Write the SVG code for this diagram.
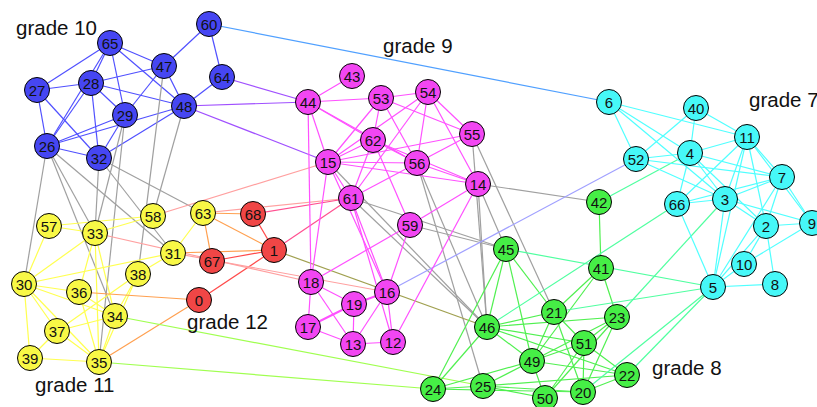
<svg xmlns="http://www.w3.org/2000/svg" width="817" height="407" viewBox="0 0 817 407">
<style>
line{stroke-width:1.2;fill:none}
.b{stroke:#5050ff}.m{stroke:#ff50ff}.c{stroke:#50ffff}.g{stroke:#50f050}.y{stroke:#ffff50}.r{stroke:#ff4a4a}
.bm{stroke:#a050ff}.bc{stroke:#50a0ff}.gr{stroke:#a0a0a0}.my{stroke:#ffa0a0}.mr{stroke:#ff5090}.yr{stroke:#ffa050}
.yg{stroke:#a0ff50}.rg{stroke:#a0a050}.mc{stroke:#a0a0ff}.gc{stroke:#50ffa0}
.thick{stroke-width:2}
circle{stroke:#000;stroke-width:1}
.nb circle{fill:#4646f2}.nm circle{fill:#f246f2}.nc circle{fill:#46f8f8}.ng circle{fill:#46ee46}.ny circle{fill:#f8f846}.nr circle{fill:#f04646}
.node text{font-family:"Liberation Sans",Arial,sans-serif;font-size:15px;text-anchor:middle;fill:#111}
.lbl{font-family:"Liberation Sans",Arial,sans-serif;font-size:20.5px;fill:#111}
</style>
<rect width="817" height="407" fill="#fff"/>
<g id="edges">
<line class="b" x1="209" y1="24" x2="164" y2="66"/>
<line class="b" x1="209" y1="24" x2="222" y2="77"/>
<line class="b" x1="222" y1="77" x2="184" y2="106"/>
<line class="b" x1="110" y1="43" x2="164" y2="66"/>
<line class="b" x1="110" y1="43" x2="91" y2="83"/>
<line class="b" x1="110" y1="43" x2="47" y2="146"/>
<line class="b" x1="110" y1="43" x2="37" y2="90"/>
<line class="b" x1="110" y1="43" x2="125" y2="115"/>
<line class="b" x1="110" y1="43" x2="184" y2="106"/>
<line class="b" x1="37" y1="90" x2="91" y2="83"/>
<line class="b" x1="37" y1="90" x2="47" y2="146"/>
<line class="b" x1="37" y1="90" x2="99" y2="158"/>
<line class="b" x1="91" y1="83" x2="164" y2="66"/>
<line class="b" x1="91" y1="83" x2="184" y2="106"/>
<line class="b" x1="91" y1="83" x2="125" y2="115"/>
<line class="b" x1="91" y1="83" x2="99" y2="158"/>
<line class="b" x1="91" y1="83" x2="47" y2="146"/>
<line class="b" x1="164" y1="66" x2="125" y2="115"/>
<line class="b" x1="164" y1="66" x2="184" y2="106"/>
<line class="b" x1="125" y1="115" x2="47" y2="146"/>
<line class="b" x1="47" y1="146" x2="184" y2="106"/>
<line class="b" x1="125" y1="115" x2="99" y2="158"/>
<line class="b" x1="99" y1="158" x2="184" y2="106"/>
<line class="b" x1="47" y1="146" x2="99" y2="158"/>
<line class="bm" x1="222" y1="77" x2="308" y2="102"/>
<line class="bm" x1="184" y1="106" x2="308" y2="102"/>
<line class="bm" x1="184" y1="106" x2="328" y2="162"/>
<line class="bc" x1="209" y1="24" x2="609" y2="102"/>
<line class="gr" x1="47" y1="146" x2="24" y2="284"/>
<line class="gr" x1="47" y1="146" x2="95" y2="233"/>
<line class="gr" x1="47" y1="146" x2="115" y2="316"/>
<line class="gr" x1="47" y1="146" x2="173" y2="253"/>
<line class="gr" x1="99" y1="158" x2="95" y2="233"/>
<line class="gr" x1="99" y1="158" x2="203" y2="213"/>
<line class="gr" x1="99" y1="158" x2="173" y2="253"/>
<line class="gr" x1="125" y1="115" x2="95" y2="233"/>
<line class="gr" x1="125" y1="115" x2="99" y2="362"/>
<line class="gr" x1="164" y1="66" x2="138" y2="274"/>
<line class="gr" x1="184" y1="106" x2="153" y2="216"/>
<line class="gr" x1="478" y1="184" x2="599" y2="202"/>
<line class="gr" x1="478" y1="184" x2="506" y2="249"/>
<line class="gr" x1="478" y1="184" x2="487" y2="327"/>
<line class="gr" x1="472" y1="134" x2="487" y2="327"/>
<line class="gr" x1="472" y1="134" x2="554" y2="312"/>
<line class="gr" x1="351" y1="198" x2="506" y2="249"/>
<line class="gr" x1="410" y1="225" x2="506" y2="249"/>
<line class="gr" x1="351" y1="198" x2="487" y2="327"/>
<line class="gr" x1="328" y1="162" x2="487" y2="327"/>
<line class="gr" x1="417" y1="163" x2="487" y2="327"/>
<line class="gr" x1="417" y1="163" x2="483" y2="386"/>
<line class="y" x1="49" y1="226" x2="95" y2="233"/>
<line class="y" x1="49" y1="226" x2="24" y2="284"/>
<line class="y" x1="153" y1="216" x2="49" y2="226"/>
<line class="y" x1="153" y1="216" x2="95" y2="233"/>
<line class="y" x1="95" y1="233" x2="24" y2="284"/>
<line class="y" x1="95" y1="233" x2="79" y2="292"/>
<line class="y" x1="95" y1="233" x2="115" y2="316"/>
<line class="y" x1="95" y1="233" x2="99" y2="362"/>
<line class="y" x1="173" y1="253" x2="24" y2="284"/>
<line class="y" x1="173" y1="253" x2="138" y2="274"/>
<line class="y" x1="173" y1="253" x2="203" y2="213"/>
<line class="y" x1="24" y1="284" x2="79" y2="292"/>
<line class="y" x1="24" y1="284" x2="115" y2="316"/>
<line class="y" x1="24" y1="284" x2="57" y2="331"/>
<line class="y" x1="24" y1="284" x2="30" y2="358"/>
<line class="y" x1="24" y1="284" x2="99" y2="362"/>
<line class="y" x1="79" y1="292" x2="115" y2="316"/>
<line class="y" x1="79" y1="292" x2="99" y2="362"/>
<line class="y" x1="138" y1="274" x2="57" y2="331"/>
<line class="y" x1="138" y1="274" x2="99" y2="362"/>
<line class="y" x1="138" y1="274" x2="115" y2="316"/>
<line class="y" x1="115" y1="316" x2="57" y2="331"/>
<line class="y" x1="115" y1="316" x2="99" y2="362"/>
<line class="y" x1="57" y1="331" x2="30" y2="358"/>
<line class="y" x1="57" y1="331" x2="99" y2="362"/>
<line class="y" x1="30" y1="358" x2="99" y2="362"/>
<line class="yr" x1="203" y1="213" x2="212" y2="261"/>
<line class="yr" x1="203" y1="213" x2="274" y2="250"/>
<line class="yr" x1="203" y1="213" x2="253" y2="214"/>
<line class="yr" x1="173" y1="253" x2="274" y2="250"/>
<line class="yr" x1="79" y1="292" x2="199" y2="300"/>
<line class="yr" x1="99" y1="362" x2="199" y2="300"/>
<line class="r" x1="253" y1="214" x2="274" y2="250"/>
<line class="r" x1="212" y1="261" x2="274" y2="250"/>
<line class="r" x1="199" y1="300" x2="274" y2="250"/>
<line class="my" x1="328" y1="162" x2="153" y2="216"/>
<line class="my" x1="203" y1="213" x2="351" y2="198"/>
<line class="my" x1="95" y1="233" x2="311" y2="282"/>
<line class="my" x1="173" y1="253" x2="387" y2="292"/>
<line class="mr" x1="351" y1="198" x2="274" y2="250"/>
<line class="mr" x1="253" y1="214" x2="351" y2="198"/>
<line class="yg" x1="115" y1="316" x2="483" y2="386"/>
<line class="yg" x1="99" y1="362" x2="433" y2="389"/>
<line class="rg" x1="274" y1="250" x2="487" y2="327"/>
<line class="mc" x1="387" y1="292" x2="636" y2="159"/>
<line class="m" x1="352" y1="76" x2="308" y2="102"/>
<line class="m" x1="308" y1="102" x2="381" y2="98"/>
<line class="m" x1="308" y1="102" x2="373" y2="140"/>
<line class="m" x1="308" y1="102" x2="417" y2="163"/>
<line class="m" x1="308" y1="102" x2="328" y2="162"/>
<line class="m" x1="308" y1="102" x2="311" y2="282"/>
<line class="m" x1="381" y1="98" x2="428" y2="92"/>
<line class="m" x1="381" y1="98" x2="373" y2="140"/>
<line class="m" x1="381" y1="98" x2="328" y2="162"/>
<line class="m" x1="381" y1="98" x2="417" y2="163"/>
<line class="m" x1="381" y1="98" x2="472" y2="134"/>
<line class="m" x1="428" y1="92" x2="328" y2="162"/>
<line class="m" x1="428" y1="92" x2="351" y2="198"/>
<line class="m" x1="428" y1="92" x2="417" y2="163"/>
<line class="m" x1="428" y1="92" x2="478" y2="184"/>
<line class="m" x1="428" y1="92" x2="472" y2="134"/>
<line class="m" x1="472" y1="134" x2="328" y2="162"/>
<line class="m" x1="472" y1="134" x2="417" y2="163"/>
<line class="m" x1="373" y1="140" x2="328" y2="162"/>
<line class="m" x1="373" y1="140" x2="351" y2="198"/>
<line class="m" x1="373" y1="140" x2="417" y2="163"/>
<line class="m" x1="373" y1="140" x2="478" y2="184"/>
<line class="m" x1="373" y1="140" x2="410" y2="225"/>
<line class="m" x1="328" y1="162" x2="417" y2="163"/>
<line class="m" x1="328" y1="162" x2="478" y2="184"/>
<line class="m" x1="328" y1="162" x2="351" y2="198"/>
<line class="m" x1="328" y1="162" x2="311" y2="282"/>
<line class="m" x1="328" y1="162" x2="387" y2="292"/>
<line class="m" x1="351" y1="198" x2="387" y2="292"/>
<line class="m" x1="351" y1="198" x2="393" y2="342"/>
<line class="m" x1="417" y1="163" x2="351" y2="198"/>
<line class="m" x1="417" y1="163" x2="478" y2="184"/>
<line class="m" x1="410" y1="225" x2="311" y2="282"/>
<line class="m" x1="478" y1="184" x2="410" y2="225"/>
<line class="m" x1="478" y1="184" x2="393" y2="342"/>
<line class="m" x1="410" y1="225" x2="387" y2="292"/>
<line class="m" x1="311" y1="282" x2="354" y2="304"/>
<line class="m" x1="311" y1="282" x2="353" y2="344"/>
<line class="m" x1="311" y1="282" x2="308" y2="327"/>
<line class="m thick" x1="308" y1="327" x2="354" y2="304"/>
<line class="m" x1="308" y1="327" x2="353" y2="344"/>
<line class="m" x1="354" y1="304" x2="353" y2="344"/>
<line class="m thick" x1="354" y1="304" x2="387" y2="292"/>
<line class="m" x1="353" y1="344" x2="387" y2="292"/>
<line class="m" x1="353" y1="344" x2="393" y2="342"/>
<line class="m" x1="387" y1="292" x2="393" y2="342"/>
<line class="g" x1="599" y1="202" x2="601" y2="268"/>
<line class="g" x1="506" y1="249" x2="487" y2="327"/>
<line class="g" x1="506" y1="249" x2="433" y2="389"/>
<line class="g" x1="506" y1="249" x2="554" y2="312"/>
<line class="g" x1="506" y1="249" x2="532" y2="361"/>
<line class="g" x1="601" y1="268" x2="617" y2="317"/>
<line class="g" x1="601" y1="268" x2="554" y2="312"/>
<line class="g" x1="601" y1="268" x2="532" y2="361"/>
<line class="g" x1="487" y1="327" x2="554" y2="312"/>
<line class="g" x1="487" y1="327" x2="617" y2="317"/>
<line class="g" x1="487" y1="327" x2="584" y2="343"/>
<line class="g" x1="487" y1="327" x2="627" y2="375"/>
<line class="g" x1="487" y1="327" x2="532" y2="361"/>
<line class="g" x1="487" y1="327" x2="433" y2="389"/>
<line class="g" x1="554" y1="312" x2="532" y2="361"/>
<line class="g" x1="554" y1="312" x2="584" y2="343"/>
<line class="g" x1="554" y1="312" x2="583" y2="392"/>
<line class="g" x1="617" y1="317" x2="584" y2="343"/>
<line class="g" x1="617" y1="317" x2="532" y2="361"/>
<line class="g" x1="617" y1="317" x2="583" y2="392"/>
<line class="g" x1="617" y1="317" x2="545" y2="398"/>
<line class="g" x1="584" y1="343" x2="532" y2="361"/>
<line class="g" x1="584" y1="343" x2="627" y2="375"/>
<line class="g" x1="584" y1="343" x2="583" y2="392"/>
<line class="g" x1="584" y1="343" x2="545" y2="398"/>
<line class="g" x1="532" y1="361" x2="483" y2="386"/>
<line class="g" x1="532" y1="361" x2="433" y2="389"/>
<line class="g" x1="532" y1="361" x2="627" y2="375"/>
<line class="g" x1="532" y1="361" x2="545" y2="398"/>
<line class="g" x1="627" y1="375" x2="583" y2="392"/>
<line class="g" x1="627" y1="375" x2="483" y2="386"/>
<line class="g" x1="433" y1="389" x2="483" y2="386"/>
<line class="g" x1="433" y1="389" x2="583" y2="392"/>
<line class="g" x1="483" y1="386" x2="583" y2="392"/>
<line class="g" x1="483" y1="386" x2="545" y2="398"/>
<line class="gc" x1="690" y1="153" x2="599" y2="202"/>
<line class="gc" x1="506" y1="249" x2="713" y2="287"/>
<line class="gc" x1="487" y1="327" x2="677" y2="204"/>
<line class="gc" x1="617" y1="317" x2="725" y2="199"/>
<line class="gc" x1="554" y1="312" x2="713" y2="287"/>
<line class="gc" x1="627" y1="375" x2="713" y2="287"/>
<line class="gc" x1="583" y1="392" x2="713" y2="287"/>
<line class="c" x1="609" y1="102" x2="747" y2="137"/>
<line class="c" x1="609" y1="102" x2="690" y2="153"/>
<line class="c" x1="609" y1="102" x2="725" y2="199"/>
<line class="c" x1="609" y1="102" x2="636" y2="159"/>
<line class="c" x1="696" y1="108" x2="636" y2="159"/>
<line class="c" x1="696" y1="108" x2="690" y2="153"/>
<line class="c" x1="696" y1="108" x2="747" y2="137"/>
<line class="c" x1="747" y1="137" x2="690" y2="153"/>
<line class="c" x1="747" y1="137" x2="782" y2="177"/>
<line class="c" x1="747" y1="137" x2="812" y2="223"/>
<line class="c" x1="747" y1="137" x2="725" y2="199"/>
<line class="c" x1="747" y1="137" x2="677" y2="204"/>
<line class="c" x1="747" y1="137" x2="713" y2="287"/>
<line class="c" x1="747" y1="137" x2="766" y2="226"/>
<line class="c" x1="636" y1="159" x2="690" y2="153"/>
<line class="c" x1="636" y1="159" x2="782" y2="177"/>
<line class="c" x1="636" y1="159" x2="725" y2="199"/>
<line class="c" x1="690" y1="153" x2="782" y2="177"/>
<line class="c" x1="690" y1="153" x2="725" y2="199"/>
<line class="c" x1="690" y1="153" x2="677" y2="204"/>
<line class="c" x1="690" y1="153" x2="766" y2="226"/>
<line class="c" x1="782" y1="177" x2="725" y2="199"/>
<line class="c" x1="782" y1="177" x2="812" y2="223"/>
<line class="c" x1="782" y1="177" x2="766" y2="226"/>
<line class="c" x1="782" y1="177" x2="713" y2="287"/>
<line class="c" x1="725" y1="199" x2="677" y2="204"/>
<line class="c" x1="677" y1="204" x2="782" y2="177"/>
<line class="c" x1="725" y1="199" x2="766" y2="226"/>
<line class="c" x1="725" y1="199" x2="812" y2="223"/>
<line class="c" x1="725" y1="199" x2="713" y2="287"/>
<line class="c" x1="677" y1="204" x2="713" y2="287"/>
<line class="c" x1="766" y1="226" x2="812" y2="223"/>
<line class="c" x1="766" y1="226" x2="775" y2="284"/>
<line class="c" x1="766" y1="226" x2="713" y2="287"/>
<line class="c" x1="766" y1="226" x2="744" y2="264"/>
<line class="c" x1="812" y1="223" x2="744" y2="264"/>
<line class="c" x1="744" y1="264" x2="713" y2="287"/>
<line class="c" x1="713" y1="287" x2="775" y2="284"/>
</g>
<g id="nodes">
<g id="n60" class="node nb"><circle cx="209" cy="24" r="12.5"/><text x="209" y="29.5">60</text></g>
<g id="n65" class="node nb"><circle cx="110" cy="43" r="12.5"/><text x="110" y="48.5">65</text></g>
<g id="n47" class="node nb"><circle cx="164" cy="66" r="12.5"/><text x="164" y="71.5">47</text></g>
<g id="n64" class="node nb"><circle cx="222" cy="77" r="12.5"/><text x="222" y="82.5">64</text></g>
<g id="n27" class="node nb"><circle cx="37" cy="90" r="12.5"/><text x="37" y="95.5">27</text></g>
<g id="n28" class="node nb"><circle cx="91" cy="83" r="12.5"/><text x="91" y="88.5">28</text></g>
<g id="n48" class="node nb"><circle cx="184" cy="106" r="12.5"/><text x="184" y="111.5">48</text></g>
<g id="n29" class="node nb"><circle cx="125" cy="115" r="12.5"/><text x="125" y="120.5">29</text></g>
<g id="n26" class="node nb"><circle cx="47" cy="146" r="12.5"/><text x="47" y="151.5">26</text></g>
<g id="n32" class="node nb"><circle cx="99" cy="158" r="12.5"/><text x="99" y="163.5">32</text></g>
<g id="n43" class="node nm"><circle cx="352" cy="76" r="12.5"/><text x="352" y="81.5">43</text></g>
<g id="n44" class="node nm"><circle cx="308" cy="102" r="12.5"/><text x="308" y="107.5">44</text></g>
<g id="n53" class="node nm"><circle cx="381" cy="98" r="12.5"/><text x="381" y="103.5">53</text></g>
<g id="n54" class="node nm"><circle cx="428" cy="92" r="12.5"/><text x="428" y="97.5">54</text></g>
<g id="n55" class="node nm"><circle cx="472" cy="134" r="12.5"/><text x="472" y="139.5">55</text></g>
<g id="n62" class="node nm"><circle cx="373" cy="140" r="12.5"/><text x="373" y="145.5">62</text></g>
<g id="n15" class="node nm"><circle cx="328" cy="162" r="12.5"/><text x="328" y="167.5">15</text></g>
<g id="n56" class="node nm"><circle cx="417" cy="163" r="12.5"/><text x="417" y="168.5">56</text></g>
<g id="n14" class="node nm"><circle cx="478" cy="184" r="12.5"/><text x="478" y="189.5">14</text></g>
<g id="n61" class="node nm"><circle cx="351" cy="198" r="12.5"/><text x="351" y="203.5">61</text></g>
<g id="n59" class="node nm"><circle cx="410" cy="225" r="12.5"/><text x="410" y="230.5">59</text></g>
<g id="n18" class="node nm"><circle cx="311" cy="282" r="12.5"/><text x="311" y="287.5">18</text></g>
<g id="n16" class="node nm"><circle cx="387" cy="292" r="12.5"/><text x="387" y="297.5">16</text></g>
<g id="n19" class="node nm"><circle cx="354" cy="304" r="12.5"/><text x="354" y="309.5">19</text></g>
<g id="n17" class="node nm"><circle cx="308" cy="327" r="12.5"/><text x="308" y="332.5">17</text></g>
<g id="n13" class="node nm"><circle cx="353" cy="344" r="12.5"/><text x="353" y="349.5">13</text></g>
<g id="n12" class="node nm"><circle cx="393" cy="342" r="12.5"/><text x="393" y="347.5">12</text></g>
<g id="n6" class="node nc"><circle cx="609" cy="102" r="12.5"/><text x="609" y="107.5">6</text></g>
<g id="n40" class="node nc"><circle cx="696" cy="108" r="12.5"/><text x="696" y="113.5">40</text></g>
<g id="n11" class="node nc"><circle cx="747" cy="137" r="12.5"/><text x="747" y="142.5">11</text></g>
<g id="n4" class="node nc"><circle cx="690" cy="153" r="12.5"/><text x="690" y="158.5">4</text></g>
<g id="n52" class="node nc"><circle cx="636" cy="159" r="12.5"/><text x="636" y="164.5">52</text></g>
<g id="n7" class="node nc"><circle cx="782" cy="177" r="12.5"/><text x="782" y="182.5">7</text></g>
<g id="n3" class="node nc"><circle cx="725" cy="199" r="12.5"/><text x="725" y="204.5">3</text></g>
<g id="n66" class="node nc"><circle cx="677" cy="204" r="12.5"/><text x="677" y="209.5">66</text></g>
<g id="n2" class="node nc"><circle cx="766" cy="226" r="12.5"/><text x="766" y="231.5">2</text></g>
<g id="n9" class="node nc"><circle cx="812" cy="223" r="12.5"/><text x="812" y="228.5">9</text></g>
<g id="n10" class="node nc"><circle cx="744" cy="264" r="12.5"/><text x="744" y="269.5">10</text></g>
<g id="n8" class="node nc"><circle cx="775" cy="284" r="12.5"/><text x="775" y="289.5">8</text></g>
<g id="n5" class="node nc"><circle cx="713" cy="287" r="12.5"/><text x="713" y="292.5">5</text></g>
<g id="n42" class="node ng"><circle cx="599" cy="202" r="12.5"/><text x="599" y="207.5">42</text></g>
<g id="n41" class="node ng"><circle cx="601" cy="268" r="12.5"/><text x="601" y="273.5">41</text></g>
<g id="n45" class="node ng"><circle cx="506" cy="249" r="12.5"/><text x="506" y="254.5">45</text></g>
<g id="n46" class="node ng"><circle cx="487" cy="327" r="12.5"/><text x="487" y="332.5">46</text></g>
<g id="n21" class="node ng"><circle cx="554" cy="312" r="12.5"/><text x="554" y="317.5">21</text></g>
<g id="n23" class="node ng"><circle cx="617" cy="317" r="12.5"/><text x="617" y="322.5">23</text></g>
<g id="n51" class="node ng"><circle cx="584" cy="343" r="12.5"/><text x="584" y="348.5">51</text></g>
<g id="n49" class="node ng"><circle cx="532" cy="361" r="12.5"/><text x="532" y="366.5">49</text></g>
<g id="n22" class="node ng"><circle cx="627" cy="375" r="12.5"/><text x="627" y="380.5">22</text></g>
<g id="n24" class="node ng"><circle cx="433" cy="389" r="12.5"/><text x="433" y="394.5">24</text></g>
<g id="n25" class="node ng"><circle cx="483" cy="386" r="12.5"/><text x="483" y="391.5">25</text></g>
<g id="n50" class="node ng"><circle cx="545" cy="398" r="12.5"/><text x="545" y="403.5">50</text></g>
<g id="n20" class="node ng"><circle cx="583" cy="392" r="12.5"/><text x="583" y="397.5">20</text></g>
<g id="n58" class="node ny"><circle cx="153" cy="216" r="12.5"/><text x="153" y="221.5">58</text></g>
<g id="n63" class="node ny"><circle cx="203" cy="213" r="12.5"/><text x="203" y="218.5">63</text></g>
<g id="n57" class="node ny"><circle cx="49" cy="226" r="12.5"/><text x="49" y="231.5">57</text></g>
<g id="n33" class="node ny"><circle cx="95" cy="233" r="12.5"/><text x="95" y="238.5">33</text></g>
<g id="n31" class="node ny"><circle cx="173" cy="253" r="12.5"/><text x="173" y="258.5">31</text></g>
<g id="n38" class="node ny"><circle cx="138" cy="274" r="12.5"/><text x="138" y="279.5">38</text></g>
<g id="n30" class="node ny"><circle cx="24" cy="284" r="12.5"/><text x="24" y="289.5">30</text></g>
<g id="n36" class="node ny"><circle cx="79" cy="292" r="12.5"/><text x="79" y="297.5">36</text></g>
<g id="n34" class="node ny"><circle cx="115" cy="316" r="12.5"/><text x="115" y="321.5">34</text></g>
<g id="n37" class="node ny"><circle cx="57" cy="331" r="12.5"/><text x="57" y="336.5">37</text></g>
<g id="n39" class="node ny"><circle cx="30" cy="358" r="12.5"/><text x="30" y="363.5">39</text></g>
<g id="n35" class="node ny"><circle cx="99" cy="362" r="12.5"/><text x="99" y="367.5">35</text></g>
<g id="n68" class="node nr"><circle cx="253" cy="214" r="12.5"/><text x="253" y="219.5">68</text></g>
<g id="n67" class="node nr"><circle cx="212" cy="261" r="12.5"/><text x="212" y="266.5">67</text></g>
<g id="n1" class="node nr"><circle cx="274" cy="250" r="12.5"/><text x="274" y="255.5">1</text></g>
<g id="n0" class="node nr"><circle cx="199" cy="300" r="12.5"/><text x="199" y="305.5">0</text></g>
</g>
<g id="labels">
<text class="lbl" x="16" y="35">grade 10</text>
<text class="lbl" x="383" y="53">grade 9</text>
<text class="lbl" x="749" y="107">grade 7</text>
<text class="lbl" x="187" y="329">grade 12</text>
<text class="lbl" x="35" y="392">grade 11</text>
<text class="lbl" x="652" y="375">grade 8</text>
</g>
</svg>
